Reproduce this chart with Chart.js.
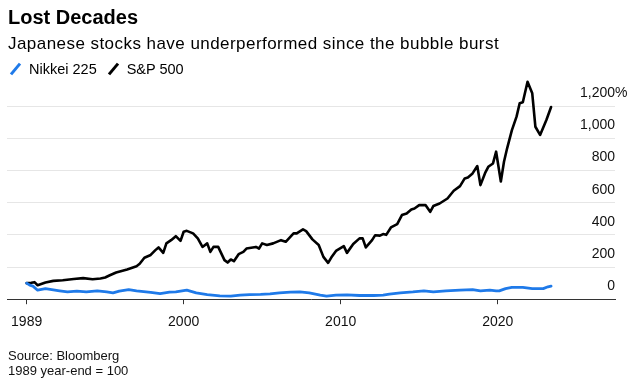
<!DOCTYPE html>
<html>
<head>
<meta charset="utf-8">
<script src="https://cdn.jsdelivr.net/npm/chart.js@4"></script>
<style>
  body { margin: 0; background: #fff; font-family: "Liberation Sans", Arial, sans-serif; color: #000; }
  #wrap { position: absolute; left: 0; top: 0; width: 637px; height: 386px; }
  .txt { position: absolute; left: 8px; white-space: nowrap; }
  #title { top: 5px; font-size: 20px; font-weight: bold; line-height: 24px; }
  #subtitle { top: 33px; font-size: 17px; letter-spacing: 0.45px; line-height: 22px; }
  #legend { top: 60px; font-size: 14.5px; line-height: 18px; left: 9px; }
  .key { display: inline-block; position: relative; width: 12px; height: 12px; margin-right: 8px; vertical-align: -1px; }
  .key::after { content: ""; position: absolute; left: 5px; top: -1px; width: 3px; height: 14px; transform: rotate(40deg); background: var(--c); }
  .item { margin-right: 10px; }
  #source { top: 349px; font-size: 13px; line-height: 14.5px; color: #111; }
</style>
</head>
<body>
<div id="wrap"><canvas id="chart"></canvas></div>
<div class="txt" id="title">Lost Decades</div>
<div class="txt" id="subtitle">Japanese stocks have underperformed since the bubble burst</div>
<div class="txt" id="legend"><span class="key" style="--c:#1f7ae9"></span><span class="item">Nikkei 225</span><span class="key" style="--c:#000"></span><span>S&amp;P 500</span></div>
<div class="txt" id="source">Source: Bloomberg<br>1989 year-end = 100</div>
<script>
// (1989 year-end = 100)
const spxYears = [1990.0, 1990.3, 1990.5, 1990.7, 1991.2, 1991.7, 1992.3, 1993.0, 1993.6, 1994.2, 1994.7, 1995.0,
  1995.3, 1995.7, 1996.4, 1997.0, 1997.2, 1997.5, 1997.9, 1998.2, 1998.4, 1998.7, 1998.9, 1999.2, 1999.5, 1999.8,
  2000.0, 2000.2, 2000.6, 2000.9, 2001.2, 2001.5, 2001.7, 2001.9, 2002.2, 2002.6, 2002.8, 2003.0, 2003.2, 2003.5,
  2003.8, 2004.0, 2004.6, 2004.8, 2005.0, 2005.3, 2005.7, 2006.2, 2006.5, 2007.0, 2007.2, 2007.6, 2007.8, 2008.2,
  2008.6, 2008.9, 2009.2, 2009.4, 2009.7, 2010.2, 2010.4, 2010.8, 2011.2, 2011.4, 2011.6, 2012.0, 2012.2, 2012.5,
  2012.7, 2012.9, 2013.2, 2013.6, 2013.9, 2014.2, 2014.5, 2014.7, 2015.0, 2015.4, 2015.7, 2015.9, 2016.3, 2016.8,
  2017.2, 2017.6, 2017.9, 2018.1, 2018.4, 2018.7, 2018.9, 2019.2, 2019.4, 2019.7, 2019.9, 2020.2, 2020.4, 2020.6,
  2020.9, 2021.2, 2021.4, 2021.6, 2021.9, 2022.2, 2022.4, 2022.7, 2023.1, 2023.4];
const spxValues = [100, 102, 106, 87, 104, 114, 118, 126, 131, 124, 129, 135,
  149, 166, 185, 205, 220, 258, 275, 305, 322, 288, 347, 367, 392, 363,
  419, 425, 409, 378, 325, 347, 294, 325, 325, 243, 228, 247, 236, 280,
  294, 315, 325, 315, 347, 337, 347, 367, 357, 409, 409, 434, 423, 372,
  337, 263, 226, 259, 300, 330, 288, 343, 378, 378, 322, 367, 398, 395,
  405, 400, 446, 467, 523, 533, 558, 564, 585, 585, 543, 579, 595, 626,
  674, 703, 751, 757, 782, 828, 709, 785, 823, 844, 917, 732, 854, 938,
  1050, 1135, 1218, 1224, 1352, 1280, 1072, 1021, 1114, 1195];

const nikkeiYears = [1990.0, 1990.2, 1990.4, 1990.7, 1991.2, 1991.6, 1992.1, 1992.6, 1993.2, 1993.8, 1994.5, 1995.1,
  1995.5, 1995.9, 1996.5, 1997.0, 1997.9, 1998.5, 1999.1, 1999.5, 2000.2, 2000.8, 2001.5, 2002.3, 2003.0, 2003.6,
  2004.2, 2004.9, 2005.5, 2006.1, 2006.8, 2007.4, 2008.0, 2008.7, 2009.1, 2009.7, 2010.4, 2011.2, 2012.1, 2012.7,
  2013.1, 2013.8, 2014.6, 2015.3, 2015.9, 2016.7, 2017.6, 2018.4, 2018.9, 2019.5, 2019.9, 2020.1, 2020.5, 2020.9,
  2021.6, 2022.2, 2022.9, 2023.2, 2023.4];
const nikkeiValues = [100, 87, 81, 56, 66, 60, 52, 45, 50, 45, 52, 45,
  39, 50, 60, 52, 42, 35, 44, 45, 56, 39, 29, 21, 19, 25,
  29, 30, 33, 39, 44, 45, 39, 25, 19, 25, 27, 23, 23, 25,
  31, 39, 45, 52, 45, 52, 56, 60, 52, 56, 52, 52, 66, 73,
  73, 66, 66, 77, 81];

const xTickValues = [1990, 2000, 2010, 2020];
const xTickLabels = ['1989', '2000', '2010', '2020'];
const yTickValues = [0, 200, 400, 600, 800, 1000, 1200];

Chart.defaults.font.family = '"Liberation Sans", Arial, sans-serif';
Chart.defaults.color = '#111';

function toPoints(xs, ys) {
  return xs.map((x, i) => ({ x: x, y: ys[i] }));
}

// the "%" hangs after the top label only
const percentSign = {
  id: 'percentSign',
  afterDraw(chart) {
    const y = chart.scales.y;
    const ctx = chart.ctx;
    ctx.save();
    ctx.font = '14px "Liberation Sans", Arial, sans-serif';
    ctx.fillStyle = '#111';
    ctx.textAlign = 'left';
    ctx.textBaseline = 'middle';
    ctx.fillText('%', chart.chartArea.right, y.getPixelForValue(1200) - 13);
    ctx.restore();
  }
};

new Chart(document.getElementById('chart'), {
  type: 'line',
  data: {
    datasets: [{
      label: 'Nikkei 225',
      data: toPoints(nikkeiYears, nikkeiValues),
      borderColor: '#1f7ae9',
      borderWidth: 2.8
    }, {
      label: 'S&P 500',
      data: toPoints(spxYears, spxValues),
      borderColor: '#000',
      borderWidth: 2.6
    }]
  },
  options: {
    responsive: true,
    maintainAspectRatio: false,
    animation: false,
    layout: { padding: { left: 7, right: 22, top: 74, bottom: 45 } },
    elements: { point: { radius: 0 }, line: { tension: 0, borderJoinStyle: 'round', borderCapStyle: 'round' } },
    plugins: { legend: { display: false }, tooltip: { enabled: false } },
    scales: {
      x: {
        type: 'linear',
        min: 1988.75,
        max: 2027.47,
        afterBuildTicks: axis => { axis.ticks = xTickValues.map(v => ({ value: v })); },
        ticks: {
          font: { size: 14 },
          padding: 10,
          maxRotation: 0,
          callback: v => xTickLabels[xTickValues.indexOf(v)]
        },
        grid: { drawOnChartArea: false, tickLength: 5, color: '#333' },
        border: { display: true, color: '#333', width: 1 }
      },
      y: {
        position: 'right',
        min: 0,
        max: 1400,
        afterBuildTicks: axis => { axis.ticks = yTickValues.map(v => ({ value: v })); },
        ticks: {
          mirror: true,
          padding: 0,
          labelOffset: -13,
          font: { size: 14 },
          callback: v => v.toLocaleString('en-US')
        },
        grid: { color: '#e6e6e6', drawTicks: false },
        border: { display: false }
      }
    }
  },
  plugins: [percentSign]
});
</script>
</body>
</html>
